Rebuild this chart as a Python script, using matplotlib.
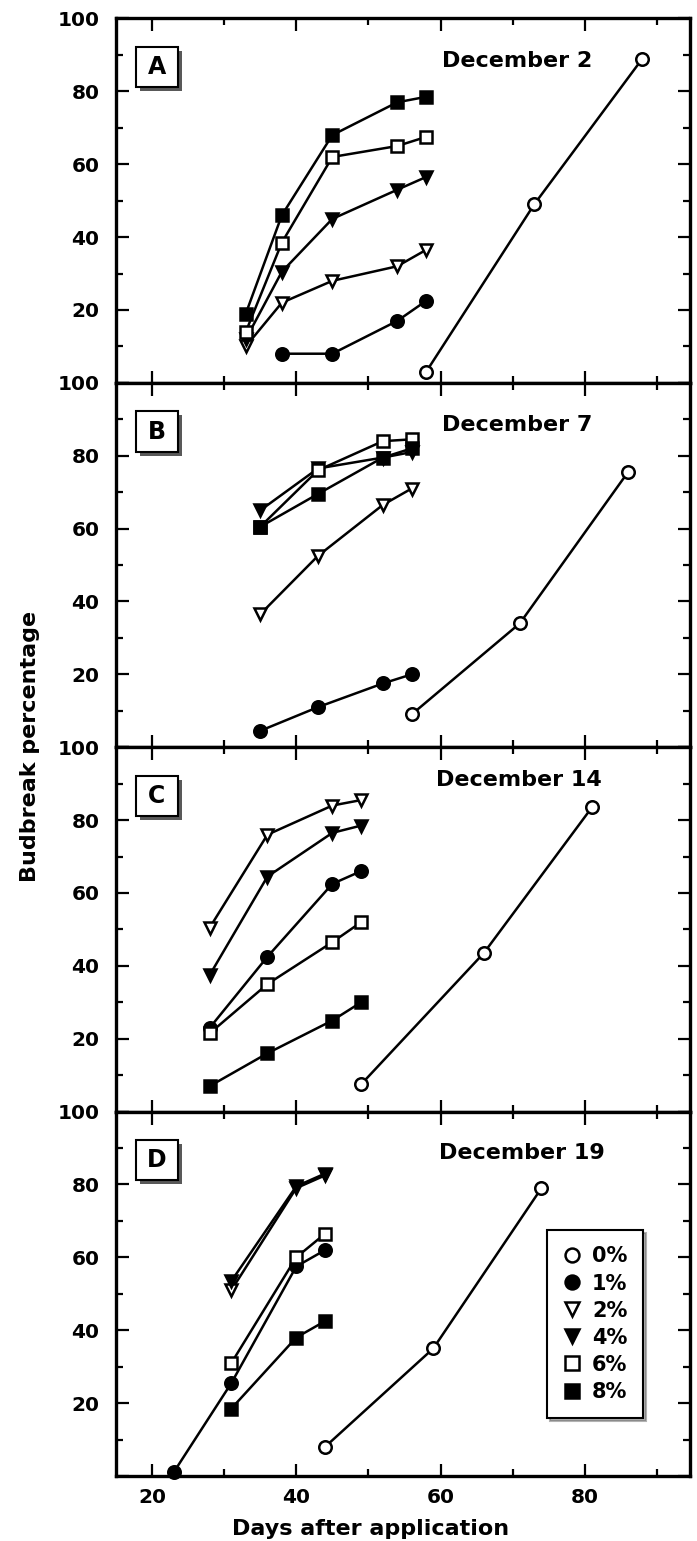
import numpy as np
import matplotlib
matplotlib.use("Agg")
import matplotlib.pyplot as plt
from matplotlib.lines import Line2D
from matplotlib.patches import Rectangle

plt.rcParams['font.family'] = ['DejaVu Sans']
plt.rcParams['font.weight'] = 'bold'

nan = np.nan
concentrations = ['0%', '1%', '2%', '4%', '6%', '8%']

# Panel A - December 2
a_days = [33, 38, 45, 54, 58]
a_days_0 = [58, 73, 88]
a_0 = [3, 49, 89]
a_1 = [nan, 8, 8, 17, 22.5]
a_2 = [10, 22, 28, 32, 36.5]
a_4 = [12, 30.5, 45, 53, 56.5]
a_6 = [14, 38.5, 62, 65, 67.5]
a_8 = [19, 46, 68, 77, 78.5]

# Panel B - December 7
b_days = [35, 43, 52, 56]
b_days_0 = [56, 71, 86]
b_0 = [9, 34, 75.5]
b_1 = [4.5, 11, 17.5, 20]
b_2 = [36.5, 52.5, 66.5, 71]
b_4 = [65, 76.5, 79.5, 81]
b_6 = [60.5, 76, 84, 84.5]
b_8 = [60.5, 69.5, 79.5, 82]

# Panel C - December 14
c_days = [28, 36, 45, 49]
c_days_0 = [49, 66, 81]
c_0 = [7.5, 43.5, 83.5]
c_1 = [23, 42.5, 62.5, 66]
c_2 = [50.5, 76, 84, 85.5]
c_4 = [37.5, 64.5, 76.5, 78.5]
c_6 = [21.5, 35, 46.5, 52]
c_8 = [7, 16, 25, 30]

# Panel D - December 19
d_days = [23, 31, 40, 44]
d_days_0 = [44, 59, 74]
d_0 = [8, 35, 79]
d_1 = [1, 25.5, 57.5, 62]
d_2 = [nan, 51, 79, 82.5]
d_4 = [nan, 53.5, 79.5, 83]
d_6 = [nan, 31, 60, 66.5]
d_8 = [nan, 18.5, 38, 42.5]

panels = [
    ('A', 'December 2', a_days, a_days_0, [a_0, a_1, a_2, a_4, a_6, a_8]),
    ('B', 'December 7', b_days, b_days_0, [b_0, b_1, b_2, b_4, b_6, b_8]),
    ('C', 'December 14', c_days, c_days_0, [c_0, c_1, c_2, c_4, c_6, c_8]),
    ('D', 'December 19', d_days, d_days_0, [d_0, d_1, d_2, d_4, d_6, d_8]),
]
title_pos = [(0.568, 0.882), (0.568, 0.885), (0.557, 0.910), (0.562, 0.886)]

styles = [('o', 'white'), ('o', 'black'), ('v', 'white'),
          ('v', 'black'), ('s', 'white'), ('s', 'black')]

fig, axes = plt.subplots(4, 1, figsize=(6.97, 15.41), dpi=100, sharex=True)
fig.subplots_adjust(left=0.1664, right=0.990, top=0.988, bottom=0.0422, hspace=0)

for ax, (letter, title, days, days0, series), tpos in zip(axes, panels, title_pos):
    for i, vals in enumerate(series):
        mk, fc = styles[i]
        x = days0 if i == 0 else days
        ax.plot(x, vals, color='black', lw=1.8, marker=mk, ms=9 if mk != 's' else 8,
                mfc=fc, mec='black', mew=1.8, clip_on=False, zorder=3)
    ax.set_xlim(15, 94.6)
    ax.set_ylim(0, 100)
    ax.set_yticks([0, 20, 40, 60, 80, 100])
    ax.set_yticklabels(['', '20', '40', '60', '80', '100'])
    ax.set_yticks([10, 30, 50, 70, 90], minor=True)
    ax.set_xticks([20, 40, 60, 80])
    ax.set_xticks([30, 50, 70, 90], minor=True)
    ax.tick_params(which='both', direction='in', top=True, right=True, width=1.6)
    ax.tick_params(which='major', length=9)
    ax.tick_params(which='minor', length=5)
    ax.tick_params(axis='y', which='major', labelsize=14.5, pad=12)
    ax.tick_params(axis='x', which='major', labelsize=14.5, pad=9)
    for sp in ax.spines.values():
        sp.set_linewidth(2.4)
    ax.text(tpos[0], tpos[1], title, transform=ax.transAxes, ha='left', va='center',
            fontsize=16, fontweight='bold')
    # boxed panel letter with shadow
    ax.add_patch(Rectangle((0.0418, 0.800), 0.0732, 0.111, transform=ax.transAxes,
                           facecolor='0.35', edgecolor='none', zorder=4))
    ax.add_patch(Rectangle((0.0348, 0.811), 0.0732, 0.111, transform=ax.transAxes,
                           facecolor='white', edgecolor='black', lw=1.5, zorder=5))
    ax.text(0.0714, 0.8665, letter, transform=ax.transAxes, ha='center', va='center',
            fontsize=17, fontweight='bold', zorder=6)

handles = [Line2D([], [], linestyle='none', marker=mk, mfc=fc, mec='black', mew=1.8, ms=10)
           for mk, fc in styles]
leg = axes[3].legend(handles, concentrations, loc='upper left', bbox_to_anchor=(0.751, 0.674),
                     fontsize=15, frameon=True, fancybox=False, shadow={'color': '0.4'},
                     edgecolor='black', framealpha=1, borderpad=0.77, labelspacing=0.34,
                     handlelength=0.84, handletextpad=0.54, borderaxespad=0)
leg.get_frame().set_linewidth(1.5)

fig.text(0.043, 0.5155, 'Budbreak percentage', rotation=90, ha='center', va='center',
         fontsize=16, fontweight='bold')
fig.text(0.531, 0.004, 'Days after application', ha='center', va='baseline',
         fontsize=16, fontweight='bold')

fig.savefig('out.png', dpi=100)
